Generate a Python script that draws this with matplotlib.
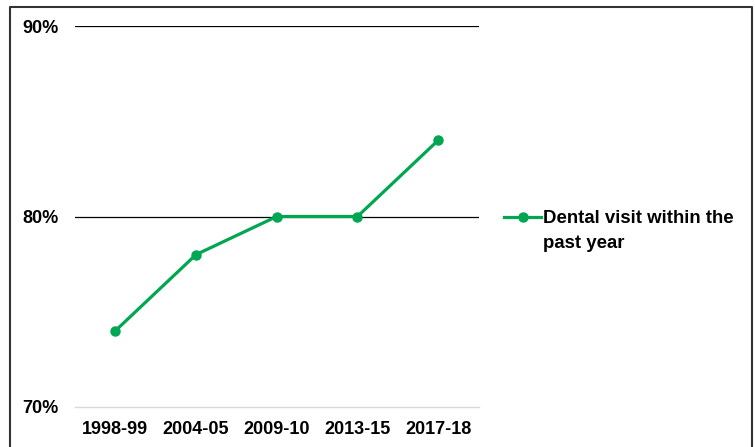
import matplotlib.pyplot as plt
from matplotlib.lines import Line2D

periods = ['1998-99', '2004-05', '2009-10', '2013-15', '2017-18']
dental_visit = [74, 78, 80, 80, 84]
yticks = [70, 80, 90]
ytick_labels = ['70%', '80%', '90%']
series_label = 'Dental visit within the\npast year'

plt.rcParams['font.family'] = ['Liberation Sans', 'DejaVu Sans']
plt.rcParams['font.weight'] = 'bold'

fig = plt.figure(figsize=(7.55, 4.47), dpi=100)
ax = fig.add_axes([0.0993, 0.0895, 0.5345, 0.8523])

green = '#00a651'
x = list(range(len(periods)))
ax.plot(x, dental_visit, color=green, lw=2.3, marker='o', markersize=6.5)

ax.set_xlim(-0.5, len(periods) - 0.5)
ax.set_ylim(70, 90)
ax.set_xticks(x)
ax.set_xticklabels(periods, fontsize=13, fontweight='bold')
ax.set_yticks(yticks)
ax.set_yticklabels(ytick_labels, fontsize=13, fontweight='bold')
ax.tick_params(length=0)
ax.tick_params(axis='y', pad=12)
ax.tick_params(axis='x', pad=10)

for s in ['left', 'right', 'top']:
    ax.spines[s].set_visible(False)
ax.spines['bottom'].set_color('#d9d9d9')
ax.spines['bottom'].set_linewidth(1)
for y in [80, 90]:
    ax.axhline(y, color='black', lw=0.9, zorder=0)

# legend, drawn by hand so the handle sits on the first text line
ly = 0.498
ax.plot([1.064, 1.154], [ly, ly], transform=ax.transAxes, clip_on=False,
        color=green, lw=2.3)
ax.plot([1.109], [ly], transform=ax.transAxes, clip_on=False,
        color=green, marker='o', markersize=6.5)
ax.text(1.161, ly + 0.019, series_label, transform=ax.transAxes,
        ha='left', va='top', fontsize=13.4, fontweight='bold', linespacing=1.6)

# outer frame (left, top, right)
W, H = 755, 447
fx0, fx1, fy = 9.5 / W, 752 / W, 1 - 6.5 / H
fig.add_artist(Line2D([fx0, fx0, fx1, fx1], [0, fy, fy, 0],
                      transform=fig.transFigure, color='#333333', lw=1.5))

fig.savefig('out.png', dpi=100)
